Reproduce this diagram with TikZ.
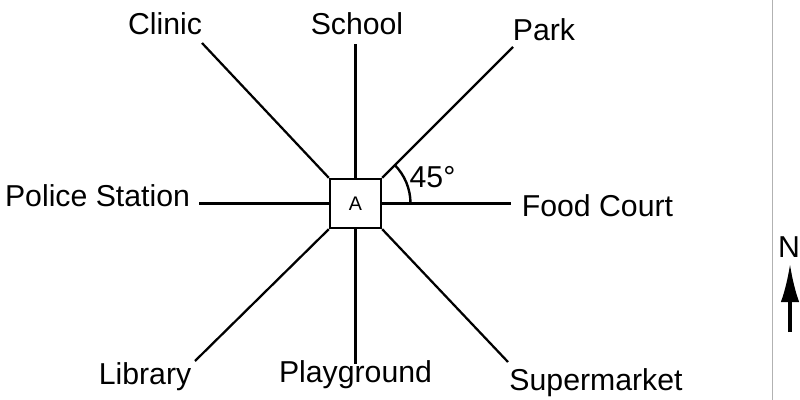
\documentclass[tikz,border=0pt]{standalone}
\usepackage{fontspec}
\setmainfont{Liberation Sans}
\usetikzlibrary{arrows.meta}
\tikzset{>=Latex,line width=1.6pt,
  every node/.style={font=\fontsize{21.5}{24}\selectfont},
  road/.style={draw=black,line width=1.6pt},
  place/.style={anchor=base,inner sep=0pt},
  centre/.style={draw,line width=1.7pt,minimum width=1.275cm,minimum height=1.225cm,
    inner sep=0pt,font=\fontsize{14}{16}\selectfont},
  pointer/.style={-{Latex[length=9.5mm,width=4.6mm]},line width=2.2pt},
  edge/.style={draw=black!30,line width=.4pt}}

\begin{document}
\begin{tikzpicture}[x=.025cm,y=-.025cm]
\useasboundingbox (0,0) rectangle (800,400);
\node[centre] (A) at (355.5,203.5) {A};
% the places
\node[place] (clinic) at (165,35) {Clinic};
\node[place] (school) at (357,35) {School};
\node[place] (park) at (544,41) {Park};
\node[place] (police) at (97.5,206) {Police Station};
\node[place] (food) at (597.5,216) {Food Court};
\node[place] (library) at (145,384) {Library};
\node[place] (play) at (355.5,382) {Playground};
\node[place] (super) at (596,390) {Supermarket};
% where the roads stop
\coordinate (clinicEnd) at (202,43);
\coordinate (schoolEnd) at (355.5,44);
\coordinate (parkEnd) at (513,47);
\coordinate (policeEnd) at (199,203.5);
\coordinate (foodEnd) at (511,203.5);
\coordinate (libraryEnd) at (195,361);
\coordinate (playEnd) at (355.5,364);
\coordinate (superEnd) at (508,362);
\draw[road] (A.north west) -- (clinicEnd);
\draw[road] (A.north) -- (schoolEnd);
\draw[road] (A.north east) -- (parkEnd);
\draw[road] (A.west) -- (policeEnd);
\draw[road] (A.east) -- (foodEnd);
\draw[road] (A.south west) -- (libraryEnd);
\draw[road] (A.south) -- (playEnd);
\draw[road] (A.south east) -- (superEnd);
% angle mark
\coordinate (arcStart) at (410.5,203.5);
\draw[line width=1.7pt] (arcStart) arc[start angle=0,end angle=-45,radius=55];
\node[place] (angle) at (432.5,187) {45°};
% north arrow
\draw[edge] (772,0) -- (772,400);
\node[place] (north) at (789,257) {N};
\coordinate (nTail) at (790,332);
\coordinate (nTip) at (790,264);
\draw[pointer] (nTail) -- (nTip);
\end{tikzpicture}
\end{document}
